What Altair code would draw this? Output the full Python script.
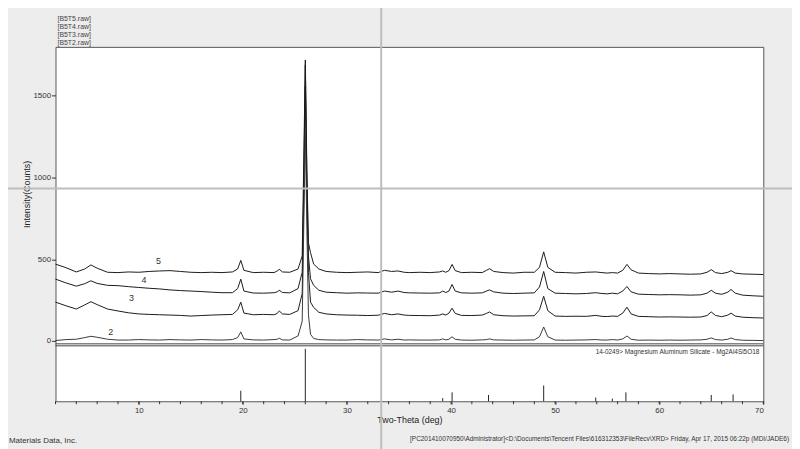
import altair as alt
import pandas as pd

FONT = "Liberation Sans"

# ---- diffraction scans (2-theta grid shared by all four scans) ----
TWO_THETA = [
    2, 3, 4, 4.8, 5.4, 6.0, 7, 8, 9, 10,
    11, 12, 13, 14, 15, 16, 17, 18, 19, 19.5,
    19.8, 20.1, 21, 22, 23, 23.3, 23.5, 23.8, 24.5, 25.3,
    25.7, 25.85, 26.0, 26.15, 26.3, 26.5, 26.8, 27.3, 28, 29,
    30, 31, 32, 33, 33.6, 34.3, 34.9, 35.5, 36, 37,
    38, 38.9, 39.2, 39.5, 39.8, 40.1, 40.4, 41, 42, 43,
    43.4, 43.7, 44.1, 45, 46, 47, 48, 48.5, 48.9, 49.3,
    50, 51, 52, 53, 53.9, 54.5, 55, 55.5, 56, 56.5,
    56.9, 57.3, 58, 59, 60, 61, 62, 63, 64, 64.6,
    65.0, 65.4, 66, 66.6, 66.9, 67.3, 68, 69, 70,
]
B5T5 = [
    470, 448, 422, 440, 465, 445, 420, 418, 422, 420,
    425, 428, 430, 425, 420, 418, 420, 418, 422, 440,
    493, 432, 418, 420, 418, 428, 438, 422, 420, 440,
    520, 1100, 1720, 1050, 600, 540, 470, 440, 425, 420,
    418, 420, 422, 418, 432, 425, 428, 420, 418, 420,
    418, 422, 428, 420, 430, 468, 430, 418, 420, 418,
    432, 442, 425, 418, 415, 420, 420, 450, 545, 450,
    420, 418, 415, 420, 422, 418, 415, 418, 415, 432,
    468, 435, 415, 412, 410, 412, 410, 408, 410, 420,
    436, 418, 412, 420, 430, 415, 410, 408, 406,
]
B5T4 = [
    378, 355, 335, 350, 368, 352, 340, 338, 332, 327,
    322, 318, 312, 308, 305, 302, 298, 295, 295, 320,
    378, 305, 293, 292, 295, 300, 310, 296, 294, 320,
    420, 950, 1690, 980, 520, 380, 340, 310, 298, 295,
    292, 294, 293, 292, 305, 298, 305, 296, 294, 293,
    292, 294, 305, 296, 305, 345, 305, 294, 292, 294,
    305, 312, 300, 292, 290, 292, 294, 330, 425, 320,
    292, 290, 288, 290, 295, 290, 288, 292, 288, 305,
    333, 300, 286, 284, 282, 283, 282, 280, 282, 292,
    310, 292, 285, 298, 315, 292, 280, 276, 273,
]
B5T3 = [
    237, 215, 195, 220, 240, 222, 195, 183, 172, 165,
    162, 160, 158, 156, 152, 155, 158, 160, 162, 190,
    237, 170, 160, 162, 160, 168, 183, 165, 162, 185,
    290, 850, 1560, 880, 420, 237, 205, 175, 165, 160,
    158, 157, 155, 157, 168, 160, 165, 158, 156, 155,
    154, 158, 165, 158, 170, 200, 168, 156, 155, 158,
    168, 177, 160, 154, 152, 153, 154, 190, 273, 185,
    152, 150, 151, 150, 156, 150, 149, 152, 150, 170,
    206, 165, 150, 148, 146, 147, 146, 145, 146, 155,
    177, 156, 148, 158, 170, 152, 145, 142, 140,
]
B5T2 = [
    2, 8, 10, 20, 28, 22, 10, 5, 5, 8,
    6, 5, 8, 6, 5, 8, 6, 5, 8, 20,
    55, 12, 6, 5, 8, 10, 16, 6, 5, 30,
    120, 700, 1280, 680, 160, 40, 15, 8, 6, 5,
    5, 8, 6, 5, 12, 6, 10, 5, 6, 5,
    5, 6, 12, 6, 10, 25, 10, 5, 4, 6,
    8, 12, 6, 5, 4, 5, 6, 25, 85, 25,
    5, 4, 5, 6, 8, 5, 5, 8, 5, 12,
    30, 10, 4, 5, 4, 5, 4, 5, 6, 10,
    18, 8, 5, 10, 18, 8, 4, 3, 2,
]
SCANS = ["[B5T5.raw]", "[B5T4.raw]", "[B5T3.raw]", "[B5T2.raw]"]

# ---- curve number labels ----
CURVE_TEXT = ["5", "4", "3", "2"]
CURVE_X = [11.9, 10.5, 9.3, 7.3]
CURVE_Y = [491, 370, 261, 55]

# ---- reference pattern 14-0249 (stick lines, relative intensity) ----
STICK_POS = [19.8, 26.0, 39.2, 40.1, 43.6, 48.9, 53.9, 55.5, 56.8, 65.0, 67.1]
STICK_REL = [20, 100, 6, 17, 12, 30, 7, 5, 17, 12, 13]

# ---- axis ticks ----
X_MINOR_TICKS = list(range(2, 71, 2))
X_LABELED = [10, 20, 30, 40, 50, 60, 70]
Y_TICKS = [0, 500, 1000, 1500]

PDF_CARD = "14-0249> Magnesium Aluminum Silicate - Mg2Al4Si5O18"
FOOTER_RIGHT = ("[PC201410070950\\Administrator]<D:\\Documents\\Tencent Files\\616312353"
                "\\FileRecv\\XRD> Friday, Apr 17, 2015 06:22p (MDI/JADE6)")
FOOTER_LEFT = "Materials Data, Inc."

# ---- build tables ----
rows = []
for name, ys in zip(SCANS, [B5T5, B5T4, B5T3, B5T2]):
    for x, y in zip(TWO_THETA, ys):
        rows.append({"two_theta": x, "intensity": y, "scan": name})
scan_df = pd.DataFrame(rows)
curve_df = pd.DataFrame({"two_theta": CURVE_X, "intensity": CURVE_Y, "t": CURVE_TEXT})
stick_df = pd.DataFrame({"two_theta": STICK_POS, "rel": STICK_REL, "base": [0] * len(STICK_POS)})
minor_df = pd.DataFrame({"two_theta": X_MINOR_TICKS})

W, H = 715, 358
MAIN_Y = alt.Scale(domain=[0, 1800], range=[297, 0], nice=False, zero=False)
STICK_Y = alt.Scale(domain=[0, 100], range=[H, 305], nice=False, zero=False)
X_SCALE = alt.Scale(domain=[2, 70], nice=False, zero=False)

x_axis = alt.Axis(
    values=X_LABELED, format="d", labelOverlap=False,
    title="Two-Theta (deg)", grid=False, domain=False,
    tickSize=3, tickColor="#333", labelFontSize=8, labelColor="#333", labelFont=FONT,
    labelPadding=2, titleFontSize=9, titleFont=FONT, titleFontWeight="normal",
    titleColor="#222", titlePadding=1,
)
y_axis = alt.Axis(
    values=Y_TICKS, format="d", labelOverlap=False,
    title="Intensity(Counts)", grid=False, domain=False,
    tickSize=4, tickColor="#333", labelFontSize=8, labelColor="#333", labelFont=FONT,
    labelPadding=1, titleFontSize=9, titleFont=FONT, titleFontWeight="normal",
    titleColor="#222", titlePadding=1,
)

lines = alt.Chart(scan_df).mark_line(strokeWidth=1, interpolate="linear").encode(
    x=alt.X("two_theta:Q", scale=X_SCALE, axis=x_axis),
    y=alt.Y("intensity:Q", scale=MAIN_Y, axis=y_axis),
    color=alt.Color("scan:N", scale=alt.Scale(domain=SCANS,
                    range=["#1a1a1a", "#1a1a1a", "#1a1a1a", "#3a3a3a"]), legend=None),
    detail="scan:N",
)

curve_labels = alt.Chart(curve_df).mark_text(
    fontSize=9, font=FONT, color="#333", align="center", baseline="middle"
).encode(
    x=alt.X("two_theta:Q", scale=X_SCALE),
    y=alt.Y("intensity:Q", scale=MAIN_Y, axis=None),
    text="t:N",
)

sticks = alt.Chart(stick_df).mark_rule(color="#222", strokeWidth=1).encode(
    x=alt.X("two_theta:Q", scale=X_SCALE),
    y=alt.Y("rel:Q", scale=STICK_Y, axis=None),
    y2="base:Q",
)

minor_ticks = alt.Chart(minor_df).mark_rule(color="#333", strokeWidth=1).encode(
    x=alt.X("two_theta:Q", scale=X_SCALE),
    y=alt.value(H),
    y2=alt.value(H + 3),
)


def px_rule(x1, x2, y1, y2, color, width, opacity=1.0):
    return alt.Chart(alt.Data(values=[{"k": 0}])).mark_rule(
        color=color, strokeWidth=width, opacity=opacity
    ).encode(x=alt.value(x1), x2=alt.value(x2), y=alt.value(y1), y2=alt.value(y2))


def px_text(text, x, y, size, align="left", color="#333"):
    return alt.Chart(alt.Data(values=[{"t": text}])).mark_text(
        fontSize=size, font=FONT, color=color, align=align, baseline="middle"
    ).encode(x=alt.value(x), y=alt.value(y), text="t:N")


sep1 = px_rule(0, W, 300, 300, "#444", 1)
sep2 = px_rule(0, W, 302, 302, "#444", 1)
cross_v = px_rule(329, 329, -45, 410, "#bdbdbd", 2)
cross_h = px_rule(-56, 744, 143, 143, "#bdbdbd", 2)

texts = [
    px_text(SCANS[0], 2, 16.7 - 45, 7, color="#444"),
    px_text(SCANS[1], 2, 24.7 - 45, 7, color="#444"),
    px_text(SCANS[2], 2, 32.7 - 45, 7, color="#444"),
    px_text(SCANS[3], 2, 40.7 - 45, 7, color="#444"),
    px_text(PDF_CARD, 711, 308, 6.5, align="right", color="#333"),
    px_text(FOOTER_RIGHT, 741, 396, 6.5, align="right", color="#333"),
    px_text(FOOTER_LEFT, -47, 398, 8, color="#333"),
]

chart = alt.layer(
    lines, curve_labels, sticks, minor_ticks, sep1, sep2, *texts, cross_h, cross_v
).resolve_scale(y="independent").properties(
    width=W, height=H,
    autosize=alt.AutoSizeParams(type="none"),
    padding={"left": 48, "top": 37, "right": 29, "bottom": 50},
    background="#ededed",
).configure_view(
    stroke="#555", strokeWidth=1, fill="white"
)

chart.save("out.html", embed_options={"renderer": "svg", "actions": False})
